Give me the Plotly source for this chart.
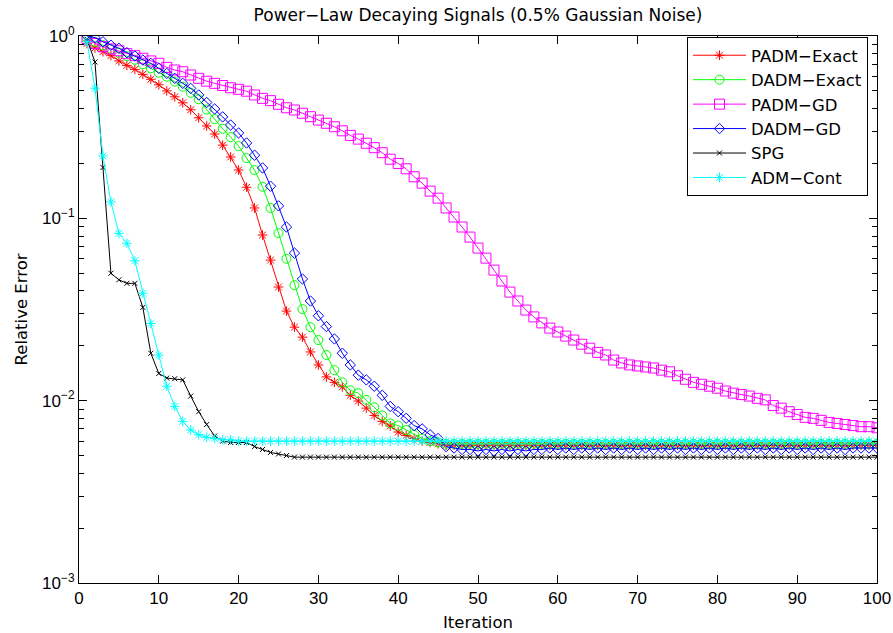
import plotly.graph_objects as go

iterations = list(range(1, 101))

padm_exact = [
    0.91, 0.86, 0.82, 0.78, 0.73, 0.69, 0.656, 0.616, 0.579, 0.54,
    0.50, 0.464, 0.43, 0.394, 0.356, 0.321, 0.29, 0.252, 0.217, 0.184,
    0.148, 0.114, 0.081, 0.059, 0.042, 0.031, 0.0253, 0.0223, 0.0185, 0.0157,
    0.0135, 0.0126, 0.0119, 0.0107, 0.00995, 0.0091, 0.0083, 0.0077, 0.00726, 0.00673,
    0.00645, 0.0062, 0.0060, 0.0059, 0.0058, 0.0057, 0.0057, 0.0057, 0.0057, 0.0057,
    0.0057, 0.0057, 0.0057, 0.0057, 0.0057, 0.0057, 0.0057, 0.0057, 0.0057, 0.0057,
    0.0057, 0.0057, 0.0057, 0.0057, 0.0057, 0.0057, 0.0057, 0.0057, 0.0057, 0.0057,
    0.0057, 0.0057, 0.0057, 0.0057, 0.0057, 0.0057, 0.0057, 0.0057, 0.0057, 0.0057,
    0.0057, 0.0057, 0.0057, 0.0057, 0.0057, 0.0057, 0.0057, 0.0057, 0.0057, 0.0057,
    0.0057, 0.0057, 0.0057, 0.0057, 0.0057, 0.0057, 0.0057, 0.0057, 0.0057, 0.0057,
]

dadm_exact = [
    0.97, 0.93, 0.89, 0.85, 0.81, 0.775, 0.74, 0.70, 0.665, 0.629,
    0.598, 0.562, 0.527, 0.488, 0.45, 0.395, 0.35, 0.31, 0.279, 0.249,
    0.214, 0.184, 0.149, 0.114, 0.083, 0.060, 0.043, 0.0318, 0.0253, 0.0215,
    0.0178, 0.0147, 0.0126, 0.0114, 0.0110, 0.0101, 0.0092, 0.0083, 0.0075, 0.0073,
    0.0069, 0.0065, 0.0062, 0.0060, 0.0059, 0.0058, 0.0058, 0.0058, 0.0058, 0.0058,
    0.0058, 0.0058, 0.0058, 0.0058, 0.0058, 0.0058, 0.0058, 0.0058, 0.0058, 0.0058,
    0.0058, 0.0058, 0.0058, 0.0058, 0.0058, 0.0058, 0.0058, 0.0058, 0.0058, 0.0058,
    0.0058, 0.0058, 0.0058, 0.0058, 0.0058, 0.0058, 0.0058, 0.0058, 0.0058, 0.0058,
    0.0058, 0.0058, 0.0058, 0.0058, 0.0058, 0.0058, 0.0058, 0.0058, 0.0058, 0.0058,
    0.0058, 0.0058, 0.0058, 0.0058, 0.0058, 0.0058, 0.0058, 0.0058, 0.0058, 0.0058,
]

padm_gd = [
    0.97, 0.91, 0.874, 0.85, 0.83, 0.80, 0.78, 0.755, 0.73, 0.708,
    0.673, 0.651, 0.637, 0.611, 0.586, 0.565, 0.55, 0.535, 0.52, 0.51,
    0.498, 0.475, 0.455, 0.442, 0.422, 0.404, 0.393, 0.377, 0.361, 0.346,
    0.332, 0.318, 0.302, 0.285, 0.272, 0.258, 0.244, 0.229, 0.211, 0.200,
    0.187, 0.169, 0.156, 0.141, 0.129, 0.114, 0.1017, 0.0896, 0.0789, 0.0687,
    0.0605, 0.052, 0.0453, 0.0394, 0.0352, 0.0314, 0.0288, 0.0267, 0.025, 0.0238,
    0.0226, 0.0215, 0.0204, 0.0194, 0.0184, 0.0178, 0.0167, 0.0161, 0.0157, 0.0155,
    0.0153, 0.0151, 0.0147, 0.0144, 0.0137, 0.0131, 0.0126, 0.0123, 0.0120, 0.0117,
    0.0113, 0.0110, 0.0108, 0.0106, 0.0103, 0.0101, 0.0094, 0.0091, 0.0087, 0.0084,
    0.0081, 0.0080, 0.0078, 0.0076, 0.0075, 0.0074, 0.0073, 0.0072, 0.0072, 0.0071,
]

dadm_gd = [
    1.0, 0.98, 0.93, 0.89, 0.856, 0.81, 0.777, 0.738, 0.708, 0.665,
    0.624, 0.586, 0.55, 0.516, 0.475, 0.432, 0.398, 0.36, 0.325, 0.294,
    0.259, 0.222, 0.189, 0.150, 0.117, 0.0896, 0.0645, 0.0465, 0.0352, 0.0292,
    0.0255, 0.0218, 0.0182, 0.0157, 0.0138, 0.0130, 0.0120, 0.0107, 0.0093, 0.0087,
    0.0080, 0.0073, 0.0070, 0.0065, 0.0062, 0.0056, 0.0055, 0.0054, 0.0054, 0.0053,
    0.0054, 0.0053, 0.0054, 0.0053, 0.0054, 0.0053, 0.0054, 0.0054, 0.0055, 0.0054,
    0.0055, 0.0054, 0.0055, 0.0054, 0.0055, 0.0054, 0.0055, 0.0054, 0.0055, 0.0054,
    0.0055, 0.0054, 0.0055, 0.0054, 0.0055, 0.0054, 0.0055, 0.0054, 0.0055, 0.0054,
    0.0055, 0.0054, 0.0055, 0.0054, 0.0055, 0.0054, 0.0055, 0.0054, 0.0055, 0.0054,
    0.0055, 0.0054, 0.0055, 0.0054, 0.0055, 0.0054, 0.0055, 0.0055, 0.0055, 0.0055,
]

spg = [
    0.96, 0.72, 0.19, 0.050, 0.046, 0.044, 0.044, 0.0325, 0.0182, 0.0141,
    0.0133, 0.0132, 0.0130, 0.0106, 0.0087, 0.0074, 0.0064, 0.0060, 0.0059, 0.0059,
    0.0059, 0.0056, 0.0054, 0.0052, 0.0051, 0.0050, 0.0049, 0.0049, 0.0049, 0.0049,
    0.0049, 0.0049, 0.0049, 0.0049, 0.0049, 0.0049, 0.0049, 0.0049, 0.0049, 0.0049,
    0.0049, 0.0049, 0.0049, 0.0049, 0.0049, 0.0049, 0.0049, 0.0049, 0.0049, 0.0049,
    0.0049, 0.0049, 0.0049, 0.0049, 0.0049, 0.0049, 0.0049, 0.0049, 0.0049, 0.0049,
    0.0049, 0.0049, 0.0049, 0.0049, 0.0049, 0.0049, 0.0049, 0.0049, 0.0049, 0.0049,
    0.0049, 0.0049, 0.0049, 0.0049, 0.0049, 0.0049, 0.0049, 0.0049, 0.0049, 0.0049,
    0.0049, 0.0049, 0.0049, 0.0049, 0.0049, 0.0049, 0.0049, 0.0049, 0.0049, 0.0049,
    0.0049, 0.0049, 0.0049, 0.0049, 0.0049, 0.0049, 0.0049, 0.0049, 0.0049, 0.0049,
]

adm_cont = [
    0.93, 0.517, 0.22, 0.123, 0.0827, 0.073, 0.0585, 0.0388, 0.0265, 0.0178,
    0.0120, 0.0093, 0.0077, 0.0069, 0.0065, 0.0063, 0.0062, 0.0061, 0.0061, 0.0060,
    0.0060, 0.0060, 0.0060, 0.0060, 0.0060, 0.0060, 0.0060, 0.0060, 0.0060, 0.0060,
    0.0060, 0.0060, 0.0060, 0.0060, 0.0060, 0.0060, 0.0060, 0.0060, 0.0060, 0.0060,
    0.0060, 0.0060, 0.0060, 0.0060, 0.0060, 0.0060, 0.0060, 0.0060, 0.0060, 0.0060,
    0.0060, 0.0060, 0.0060, 0.0060, 0.0060, 0.0060, 0.0060, 0.0060, 0.0060, 0.0060,
    0.0060, 0.0060, 0.0060, 0.0060, 0.0060, 0.0060, 0.0060, 0.0060, 0.0060, 0.0060,
    0.0060, 0.0060, 0.0060, 0.0060, 0.0060, 0.0060, 0.0060, 0.0060, 0.0060, 0.0060,
    0.0060, 0.0060, 0.0060, 0.0060, 0.0060, 0.0060, 0.0060, 0.0060, 0.0060, 0.0060,
    0.0060, 0.0060, 0.0060, 0.0060, 0.0060, 0.0060, 0.0060, 0.0060, 0.0060, 0.0060,
]

series_names = ["PADM\u2212Exact", "DADM\u2212Exact", "PADM\u2212GD", "DADM\u2212GD", "SPG", "ADM\u2212Cont"]
series_values = [padm_exact, dadm_exact, padm_gd, dadm_gd, spg, adm_cont]
series_colors = ["#ff0000", "#00ff00", "#ff00ff", "#0000ff", "#000000", "#00ffff"]
series_symbols = ["asterisk-open", "circle-open", "square-open", "diamond-open", "x-thin-open", "asterisk-open"]
series_sizes = [8, 9, 10, 8, 5, 8]

x_ticks = [0, 10, 20, 30, 40, 50, 60, 70, 80, 90, 100]
y_ticks = [0.001, 0.01, 0.1, 1]
y_ticktext = ["10<sup>\u22123</sup>", "10<sup>\u22122</sup>", "10<sup>\u22121</sup>", "10<sup>0</sup>"]
y_minor = [m * 10.0 ** e for e in (-3, -2, -1) for m in range(2, 10)]

FONT = "Liberation Sans"
TFONT = "DejaVu Sans"

L, R, T, B = 79, 16, 36, 50
W, H = 893, 633
PW, PH = W - L - R, H - T - B

fig = go.Figure()
for name, vals, col, sym, sz in zip(series_names, series_values, series_colors, series_symbols, series_sizes):
    fig.add_trace(go.Scatter(
        x=iterations, y=vals, name=name, mode="lines+markers",
        line=dict(color=col, width=1),
        marker=dict(symbol=sym, size=sz, color=col, line=dict(color=col, width=1)),
    ))

fig.update_layout(
    width=W, height=H,
    margin=dict(l=L, r=R, t=T, b=B, autoexpand=False),
    paper_bgcolor="white", plot_bgcolor="white",
    font=dict(family=FONT, size=17, color="black"),
    title=dict(text="Power\u2212Law Decaying Signals (0.5% Gaussian Noise)",
               x=0.5, xref="paper", xanchor="center",
               y=1 - 15 / H, yref="container", yanchor="middle",
               font=dict(family=TFONT, size=17, color="black")),
    showlegend=True,
    legend=dict(x=(687 - L) / PW, y=1 - (37 - T) / PH, xanchor="left", yanchor="top",
                bgcolor="white", bordercolor="black", borderwidth=1,
                font=dict(family=TFONT, size=16.5, color="black"),
                itemwidth=53, tracegroupgap=0),
)

fig.update_xaxes(
    range=[0, 100], tickmode="array", tickvals=x_ticks, automargin=False,
    ticks="inside", ticklen=8, tickcolor="black", tickwidth=1,
    showline=True, linecolor="black", linewidth=1, mirror="allticks",
    showgrid=False, zeroline=False,
    title=dict(text="Iteration", standoff=9, font=dict(family=TFONT, size=16.5)),
    tickfont=dict(size=17),
)
fig.update_yaxes(
    type="log", range=[-3, 0], tickmode="array", tickvals=y_ticks, ticktext=y_ticktext,
    automargin=False,
    ticks="inside", ticklen=8, tickcolor="black", tickwidth=1,
    minor=dict(tickmode="array", tickvals=y_minor, ticks="inside", ticklen=5, tickcolor="black", showgrid=False),
    showline=True, linecolor="black", linewidth=1, mirror="allticks",
    showgrid=False, zeroline=False,
    title=dict(text="Relative Error", standoff=10, font=dict(family=TFONT, size=16.5)),
    tickfont=dict(size=17),
)

fig.write_html("out.html")
